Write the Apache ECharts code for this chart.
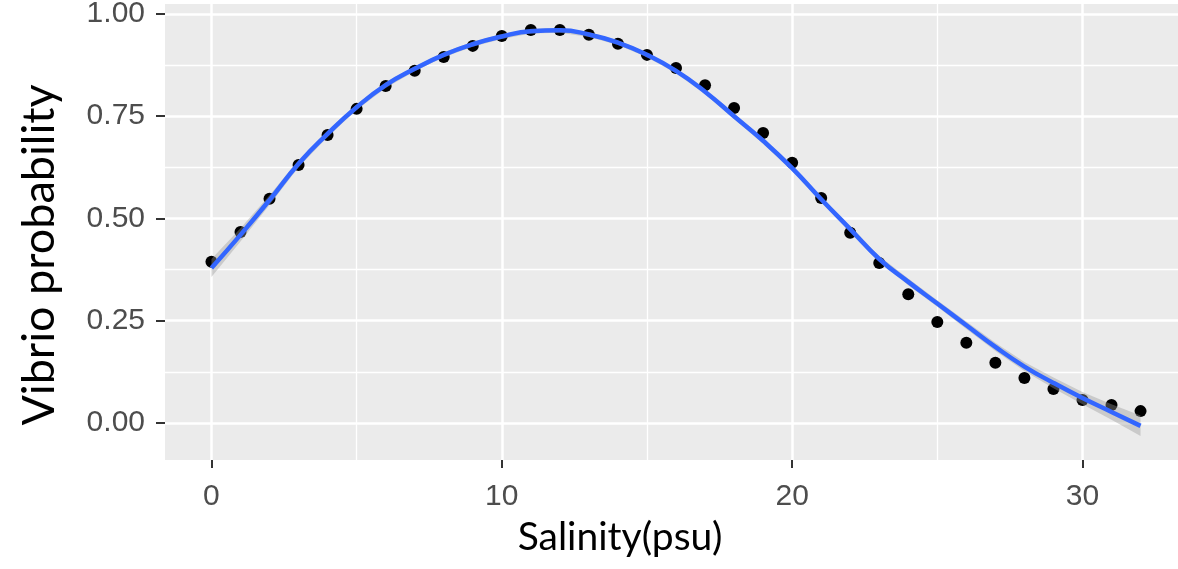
<!DOCTYPE html>
<html>
<head>
<meta charset="utf-8">
<script src="https://cdn.jsdelivr.net/npm/echarts@6/dist/echarts.min.js"></script>
<style>
  html, body { margin: 0; padding: 0; background: #fff; }
  #chart { width: 1178px; height: 569px; }
</style>
</head>
<body>
<div id="chart"></div>
<script>
const salinity = [0, 1, 2, 3, 4, 5, 6, 7, 8, 9, 10, 11, 12, 13, 14, 15, 16,
  17, 18, 19, 20, 21, 22, 23, 24, 25, 26, 27, 28, 29, 30, 31, 32]
const probObserved = [0.394, 0.467, 0.548, 0.631, 0.704, 0.768, 0.824, 0.861,
  0.895, 0.922, 0.946, 0.961, 0.961, 0.949, 0.927, 0.900, 0.868, 0.826, 0.770,
  0.709, 0.636, 0.550, 0.465, 0.391, 0.315, 0.247, 0.196, 0.147, 0.110, 0.083,
  0.056, 0.044, 0.029]
const probFitted = [0.379, 0.460, 0.545, 0.634, 0.707, 0.772, 0.826, 0.866,
  0.900, 0.926, 0.945, 0.958, 0.960, 0.950, 0.930, 0.900, 0.861, 0.810, 0.750,
  0.690, 0.623, 0.547, 0.474, 0.401, 0.345, 0.292, 0.239, 0.186, 0.138, 0.098,
  0.061, 0.027, -0.007]
// half width of the grey confidence band
const bandHalf = [0.022, 0.016, 0.012, 0.009, 0.008, 0.007, 0.007, 0.006,
  0.006, 0.006, 0.006, 0.006, 0.006, 0.006, 0.006, 0.006, 0.006, 0.006, 0.007,
  0.007, 0.007, 0.007, 0.007, 0.007, 0.008, 0.008, 0.009, 0.010, 0.011, 0.013,
  0.015, 0.019, 0.025]

const xTicks = [0, 10, 20, 30]
const xMinorTicks = [5, 15, 25]
const yTicks = [0, 0.25, 0.5, 0.75, 1]
const yMinorTicks = [0.125, 0.375, 0.625, 0.875]

const xMin = -1.6, xMax = 33.6
const yMin = -0.0905, yMax = 1.0244

const pts = salinity.map((s, i) => [s, probObserved[i]])
const fitPts = salinity.map((s, i) => [s, probFitted[i]])
const bandPts = salinity.map((s, i) => [s, probFitted[i] - bandHalf[i], probFitted[i] + bandHalf[i]])

const tickLabel = {
  color: '#4D4D4D',
  fontSize: 30,
  fontFamily: 'Liberation Sans, Arial, sans-serif'
}
const titleFont = {
  color: '#000',
  fontFamily: 'Lato, sans-serif'
}

// ribbon: upper edge forward, lower edge back, drawn once
function renderBand(params, api) {
  if (params.dataIndex !== 0) return
  const upper = bandPts.map(d => api.coord([d[0], d[2]]))
  const lower = bandPts.map(d => api.coord([d[0], d[1]])).reverse()
  return {
    type: 'polygon',
    shape: { points: upper.concat(lower) },
    style: { fill: 'rgba(153,153,153,0.4)' }
  }
}

const chart = echarts.init(document.getElementById('chart'))
const option = {
  animation: false,
  grid: {
    left: 165,
    top: 4,
    right: -9,
    bottom: 109,
    show: true,
    backgroundColor: '#EBEBEB',
    borderWidth: 0,
    containLabel: false,
    outerBoundsMode: 'none'
  },
  xAxis: [
    {
      type: 'value',
      min: xMin,
      max: xMax,
      axisLine: { show: false, onZero: false },
      axisTick: {
        customValues: xTicks,
        length: 8,
        lineStyle: { color: '#333', width: 2 }
      },
      axisLabel: Object.assign({ customValues: xTicks, margin: 22 }, tickLabel),
      splitLine: { lineStyle: { color: '#fff', width: 2.5 } },
      name: 'Salinity(psu)',
      nameLocation: 'middle',
      nameGap: 58,
      nameTextStyle: Object.assign({ fontSize: 39, padding: [0, 112, 0, 0] }, titleFont)
    },
    {
      type: 'value',
      position: 'bottom',
      min: xMin,
      max: xMax,
      axisLine: { show: false, onZero: false },
      axisTick: { show: false, customValues: xMinorTicks },
      axisLabel: { show: false, customValues: xMinorTicks },
      splitLine: { lineStyle: { color: '#fff', width: 1.3 } }
    }
  ],
  yAxis: [
    {
      type: 'value',
      min: yMin,
      max: yMax,
      axisLine: { show: false, onZero: false },
      axisTick: {
        customValues: yTicks,
        length: 9,
        lineStyle: { color: '#333', width: 2 }
      },
      axisLabel: Object.assign({
        customValues: yTicks,
        margin: 20,
        formatter: v => v.toFixed(2)
      }, tickLabel),
      splitLine: { lineStyle: { color: '#fff', width: 2.5 } },
      name: 'Vibrio probability',
      nameLocation: 'middle',
      nameRotate: 90,
      nameGap: 103,
      nameTextStyle: Object.assign({ fontSize: 45, padding: [0, 46, 0, 0] }, titleFont)
    },
    {
      type: 'value',
      position: 'left',
      min: yMin,
      max: yMax,
      axisLine: { show: false, onZero: false },
      axisTick: { show: false, customValues: yMinorTicks },
      axisLabel: { show: false, customValues: yMinorTicks },
      splitLine: { lineStyle: { color: '#fff', width: 1.3 } }
    }
  ],
  series: [
    {
      type: 'scatter',
      data: pts,
      symbolSize: 12,
      itemStyle: { color: '#000', opacity: 1 },
      z: 2
    },
    {
      type: 'custom',
      data: bandPts,
      encode: { x: 0, y: [1, 2] },
      renderItem: renderBand,
      clip: true,
      silent: true,
      z: 3
    },
    {
      type: 'line',
      data: fitPts,
      smooth: true,
      showSymbol: false,
      lineStyle: { color: '#3366FF', width: 4.5 },
      z: 4
    }
  ]
}
chart.setOption(option)
</script>
</body>
</html>
